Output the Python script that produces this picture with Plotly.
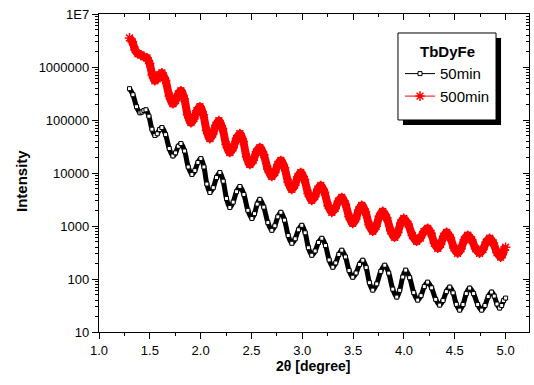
import plotly.graph_objects as go

# ---------------- data ----------------
black_x = [1.300, 1.334, 1.369, 1.403, 1.423, 1.442, 1.462, 1.491, 1.521, 1.550,
           1.573, 1.596, 1.619, 1.655, 1.691, 1.727, 1.753, 1.780, 1.806, 1.842,
           1.878, 1.914, 1.943, 1.973, 2.002, 2.032, 2.061, 2.091, 2.124, 2.156,
           2.189, 2.222, 2.254, 2.287, 2.320, 2.353, 2.386, 2.425, 2.465, 2.504,
           2.530, 2.556, 2.582, 2.621, 2.661, 2.700, 2.730, 2.759, 2.789, 2.825,
           2.861, 2.897, 2.930, 2.962, 2.995, 3.028, 3.060, 3.093, 3.126, 3.159,
           3.192, 3.228, 3.264, 3.300, 3.329, 3.359, 3.388, 3.424, 3.460, 3.496,
           3.529, 3.562, 3.595, 3.628, 3.660, 3.693, 3.732, 3.772, 3.811, 3.850,
           3.890, 3.929, 3.958, 3.988, 4.017, 4.056, 4.096, 4.135, 4.168, 4.200,
           4.233, 4.272, 4.312, 4.351, 4.384, 4.417, 4.450, 4.483, 4.515, 4.548,
           4.581, 4.613, 4.646, 4.685, 4.725, 4.764, 4.797, 4.829, 4.862, 4.888,
           4.915, 4.941, 4.961, 4.980, 5.000]
black_y = [3.9e5, 3.0e5, 1.78e5, 1.37e5, 1.42e5, 1.51e5, 1.56e5, 1.18e5, 6.7e4, 5.1e4,
           5.5e4, 6.6e4, 7.2e4, 5.3e4, 2.9e4, 2.1e4, 2.4e4, 3.2e4, 3.6e4, 2.6e4,
           1.3e4, 9400, 11100, 15800, 18700, 13000, 6200, 4300, 5300, 8200,
           10200, 7000, 3300, 2240, 2820, 4440, 5570, 3940, 1970, 1390,
           1710, 2590, 3180, 2270, 1160, 830, 1010, 1490, 1810, 1290,
           661, 472, 574, 847, 1030, 745, 389, 281, 338, 488,
           586, 429, 229, 167, 201, 290, 349, 261, 145, 108,
           130, 188, 226, 164, 85.3, 61.7, 80.9, 139, 182, 129,
           64.4, 45.6, 61.1, 109, 147, 106, 55.3, 40.0, 48.6, 71.8,
           87.3, 68.1, 41.3, 32.2, 39.2, 57.8, 70.3, 54.8, 33.3, 25.9,
           33.0, 53.1, 67.3, 53.1, 33.0, 25.9, 31.6, 46.6, 56.6, 47.6,
           33.7, 28.3, 31.6, 39.2, 43.7]

red_x = [1.300, 1.328, 1.355, 1.383, 1.413, 1.442, 1.472, 1.498, 1.524, 1.550,
         1.573, 1.596, 1.619, 1.655, 1.691, 1.727, 1.753, 1.780, 1.806, 1.839,
         1.871, 1.904, 1.934, 1.963, 1.993, 2.026, 2.058, 2.091, 2.120, 2.150,
         2.179, 2.215, 2.251, 2.287, 2.320, 2.353, 2.386, 2.419, 2.451, 2.484,
         2.517, 2.549, 2.582, 2.621, 2.661, 2.700, 2.730, 2.759, 2.789, 2.825,
         2.861, 2.897, 2.926, 2.956, 2.985, 3.021, 3.057, 3.093, 3.123, 3.152,
         3.182, 3.218, 3.254, 3.290, 3.323, 3.355, 3.388, 3.424, 3.460, 3.496,
         3.526, 3.555, 3.585, 3.621, 3.657, 3.693, 3.726, 3.758, 3.791, 3.830,
         3.870, 3.909, 3.939, 3.968, 3.998, 4.040, 4.083, 4.125, 4.161, 4.197,
         4.233, 4.266, 4.299, 4.332, 4.361, 4.391, 4.420, 4.456, 4.492, 4.528,
         4.561, 4.594, 4.627, 4.666, 4.705, 4.744, 4.777, 4.810, 4.843, 4.879,
         4.915, 4.951, 4.967, 4.984, 5.000]
red_y = [3.54e6, 2.98e6, 2.10e6, 1.77e6, 1.69e6, 1.55e6, 1.49e6, 1.16e6, 7.05e5, 5.50e5,
         6.00e5, 7.13e5, 7.76e5, 5.55e5, 2.84e5, 2.03e5, 2.33e5, 3.10e5, 3.56e5, 2.52e5,
         1.26e5, 8.91e4, 1.06e5, 1.50e5, 1.78e5, 1.26e5, 6.31e4, 4.46e4, 5.42e4, 8.00e4,
         9.72e4, 6.89e4, 3.44e4, 2.43e4, 2.99e4, 4.51e4, 5.53e4, 3.95e4, 2.02e4, 1.45e4,
         1.74e4, 2.51e4, 3.02e4, 2.21e4, 1.18e4, 8590, 10200, 14500, 17200, 12600,
         6700, 4900, 5890, 8510, 10200, 7550, 4120, 3040, 3580, 4950,
         5820, 4350, 2420, 1810, 2130, 2940, 3460, 2610, 1490, 1120,
         1360, 2010, 2450, 1850, 1050, 794, 986, 1520, 1890, 1430,
         811, 612, 752, 1140, 1390, 1090, 661, 515, 593, 785,
         904, 728, 472, 380, 452, 640, 760, 605, 385, 306,
         372, 550, 668, 550, 372, 306, 361, 499, 586, 478,
         316, 258, 287, 356, 397]

series_names = ["50min", "500min"]
legend_title = "TbDyFe"
x_title = "2\u03b8 [degree]"
y_title = "Intensity"

x_tickvals = [1.0, 1.5, 2.0, 2.5, 3.0, 3.5, 4.0, 4.5, 5.0]
x_ticktext = ["1.0", "1.5", "2.0", "2.5", "3.0", "3.5", "4.0", "4.5", "5.0"]
x_minor = [1.25, 1.75, 2.25, 2.75, 3.25, 3.75, 4.25, 4.75]
y_tickvals = [10, 100, 1000, 10000, 100000, 1000000, 10000000]
y_ticktext = ["10", "100", "1000", "10000", "100000", "1000000", "1E7"]
y_minor = [m * 10 ** e for e in range(1, 7) for m in range(2, 10)]

FONT = "Liberation Sans, Arial, sans-serif"
RED = "#ff0000"

fig = go.Figure()

# thick bands (dense markers in original)
fig.add_trace(go.Scatter(x=black_x, y=black_y, mode="lines", showlegend=False, hoverinfo="skip",
                         line=dict(color="black", width=5, shape="spline")))
fig.add_trace(go.Scatter(x=red_x, y=red_y, mode="lines", showlegend=False, hoverinfo="skip",
                         line=dict(color=RED, width=8, shape="spline")))
# marker series (these appear in legend)
fig.add_trace(go.Scatter(x=black_x, y=black_y, mode="lines+markers", name=series_names[0],
                         line=dict(color="black", width=1, shape="spline"),
                         marker=dict(symbol="square", size=4, color="white",
                                     line=dict(color="black", width=1))))
fig.add_trace(go.Scatter(x=red_x, y=red_y, mode="lines+markers", name=series_names[1],
                         line=dict(color=RED, width=1, shape="spline"),
                         marker=dict(symbol="asterisk-open", size=8,
                                     line=dict(color=RED, width=1.5))))
# helper so mirrored (top / right) axes are drawn
fig.add_trace(go.Scatter(x=[], y=[], xaxis="x2", yaxis="y2", showlegend=False, hoverinfo="skip"))

XR = [1.0, 5.23]
YR = [1, 7]

common = dict(showline=True, linecolor="black", linewidth=1.3, showgrid=False, zeroline=False,
              tickcolor="black", tickwidth=1)

fig.update_layout(
    width=534, height=385,
    margin=dict(l=99, r=5, t=14, b=53),
    paper_bgcolor="white", plot_bgcolor="white",
    font=dict(family=FONT, color="black", size=13),
    xaxis=dict(range=XR, tickmode="array", tickvals=x_tickvals, ticktext=x_ticktext,
               ticks="outside", ticklen=6,
               minor=dict(tickmode="array", tickvals=x_minor, ticks="outside", ticklen=3,
                          tickcolor="black"),
               tickfont=dict(size=13), **common),
    yaxis=dict(type="log", range=YR, tickmode="array", tickvals=y_tickvals, ticktext=y_ticktext,
               ticks="outside", ticklen=6,
               minor=dict(tickmode="array", tickvals=y_minor, ticks="outside", ticklen=3,
                          tickcolor="black"),
               tickfont=dict(size=13), **common),
    xaxis2=dict(overlaying="x", side="top", anchor="y", range=XR, tickmode="array",
                tickvals=x_tickvals, ticks="inside", ticklen=6, showticklabels=False,
                minor=dict(tickmode="array", tickvals=x_minor, ticks="inside", ticklen=3,
                           tickcolor="black"),
                **common),
    yaxis2=dict(overlaying="y", side="right", anchor="x", type="log", range=YR, tickmode="array",
                tickvals=y_tickvals, ticks="inside", ticklen=6, showticklabels=False,
                minor=dict(tickmode="array", tickvals=y_minor, ticks="inside", ticklen=3,
                           tickcolor="black"),
                **common),
    showlegend=True,
    legend=dict(x=0.70, y=0.925, xanchor="left", yanchor="top",
                bgcolor="rgba(0,0,0,0)", borderwidth=0,
                font=dict(size=15, family=FONT, color="black"),
                title=dict(text="<b>" + legend_title + "</b>", side="top center",
                           font=dict(size=15, family=FONT, color="black")),
                itemwidth=30, tracegroupgap=0),
    shapes=[
        dict(type="rect", xref="paper", yref="paper", x0=0.707, x1=0.935, y0=0.651, y1=0.9245,
             fillcolor="black", line=dict(width=0), layer="above"),
        dict(type="rect", xref="paper", yref="paper", x0=0.6953, x1=0.9233, y0=0.6667, y1=0.9403,
             fillcolor="white", line=dict(color="black", width=1), layer="above"),
    ],
    annotations=[
        dict(text="<b>" + x_title + "</b>", xref="paper", yref="paper", x=0.498, y=-0.107,
             xanchor="center", yanchor="middle", showarrow=False, font=dict(size=14)),
        dict(text="<b>" + y_title + "</b>", xref="paper", yref="paper", x=-0.179, y=0.475,
             xanchor="center", yanchor="middle", textangle=-90, showarrow=False,
             font=dict(size=15)),
    ],
)

fig.write_html("out.html", config={"displayModeBar": False},
               post_script="document.body.style.margin='0';")
